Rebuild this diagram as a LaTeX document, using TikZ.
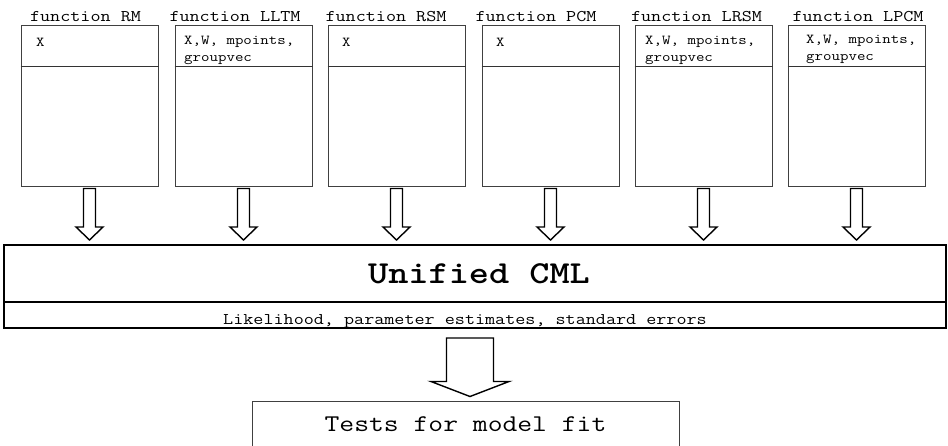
\documentclass[tikz,border=0pt]{standalone}
\usetikzlibrary{calc}

% typewriter text widened to Courier-like proportions
\newcommand\widetext[1]{\scalebox{1.2}[1]{#1}}

% hollow block arrow: #1 top centre, #2 tip (y only), #3 shaft half width,
% #4 head half width, #5 head length
\newcommand\hollowarrow[5]{%
  \draw[blockarrow] let \p1=(#1), \p2=(#2) in
    (\x1-#3,\y1) -- (\x1+#3,\y1) -- (\x1+#3,\y2+#5) -- (\x1+#4,\y2+#5)
    -- (\x1,\y2) -- (\x1-#4,\y2+#5) -- (\x1-#3,\y2+#5) -- cycle;}

\tikzset{
  fnbox/.style={draw=black!75, line width=1pt, minimum width=137pt,
    minimum height=161pt, inner sep=0pt},
  fnline/.style={draw=black!80, line width=1pt},
  fntitle/.style={font=\ttfamily\fontsize{16.3}{18}\selectfont, inner sep=0pt, anchor=base},
  argtext/.style={font=\ttfamily\fontsize{13.7}{17.8}\selectfont, inner sep=0pt, align=left},
  blockarrow/.style={draw=black, line width=1.4pt, fill=white, line join=miter},
  cmlbox/.style={draw=black, line width=2pt, minimum width=942pt,
    minimum height=83pt, inner sep=0pt},
  testbox/.style={draw=black!75, line width=1pt, minimum width=427pt,
    minimum height=68pt, inner sep=0pt},
}

\begin{document}
\begin{tikzpicture}[x=1pt, y=-1pt]
\useasboundingbox (0,0) rectangle (948,445);
\clip (0,0) rectangle (948,445);
\fill[white] (0,0) rectangle (948,445);

% the six model functions
\foreach \i/\cx in {1/89.5, 2/243.5, 3/396.5, 4/550.5, 5/703.5, 6/856.5} {
  \node[fnbox] (b\i) at (\cx,105.5) {};
  \draw[fnline] ([yshift=-42pt]b\i.north west) -- ([yshift=-42pt]b\i.north east);
}

\node[fntitle] (t1) at (85.5,21)  {\widetext{function RM}};
\node[fntitle] (t2) at (235,21)   {\widetext{function LLTM}};
\node[fntitle] (t3) at (386,21)   {\widetext{function RSM}};
\node[fntitle] (t4) at (536,21)   {\widetext{function PCM}};
\node[fntitle] (t5) at (696.5,21) {\widetext{function LRSM}};
\node[fntitle] (t6) at (858,21)   {\widetext{function LPCM}};

% arguments of each function
\node[argtext, anchor=base west] (a1) at (36,46)  {\widetext{X}};
\node[argtext, anchor=north west] (a2) at (184,35.5)
  {\widetext{X,W, mpoints,}\\\widetext{groupvec}};
\node[argtext, anchor=base west] (a3) at (342,46) {\widetext{X}};
\node[argtext, anchor=base west] (a4) at (496,46) {\widetext{X}};
\node[argtext, anchor=north west] (a5) at (645,35.5)
  {\widetext{X,W, mpoints,}\\\widetext{groupvec}};
\node[argtext, anchor=north west] (a6) at (806,34.5)
  {\widetext{X,W, mpoints,}\\\widetext{groupvec}};

% common estimation routine
\node[cmlbox] (cml) at (475,286.5) {};
\draw[line width=1.6pt] ([yshift=-58pt]cml.north west) -- ([yshift=-58pt]cml.north east);
\node[inner sep=0pt, anchor=base, font=\ttfamily\bfseries\fontsize{32}{34}\selectfont]
  (cmltitle) at (479,283) {\widetext{Unified CML}};
\node[inner sep=0pt, anchor=base, font=\ttfamily\fontsize{16.3}{18}\selectfont]
  (results) at (465,324) {\widetext{Likelihood, parameter estimates, standard errors}};

% model tests
\node[testbox] (tests) at (465.5,435) {};
\node[inner sep=0pt, anchor=base, font=\ttfamily\fontsize{24}{26}\selectfont]
  (teststext) at (465.5,431) {\widetext{Tests for model fit}};

% arrows from the functions into the common routine
\foreach \i in {1,...,6} {
  \hollowarrow{$(b\i.south)+(0,-2pt)$}{$(cml.north)+(0,4pt)$}{6pt}{13.5pt}{13pt}
}
\hollowarrow{$(cml.south)+(-5pt,-9pt)$}{$(tests.north)+(0,4pt)$}{23.5pt}{39pt}{15pt}
\end{tikzpicture}
\end{document}
